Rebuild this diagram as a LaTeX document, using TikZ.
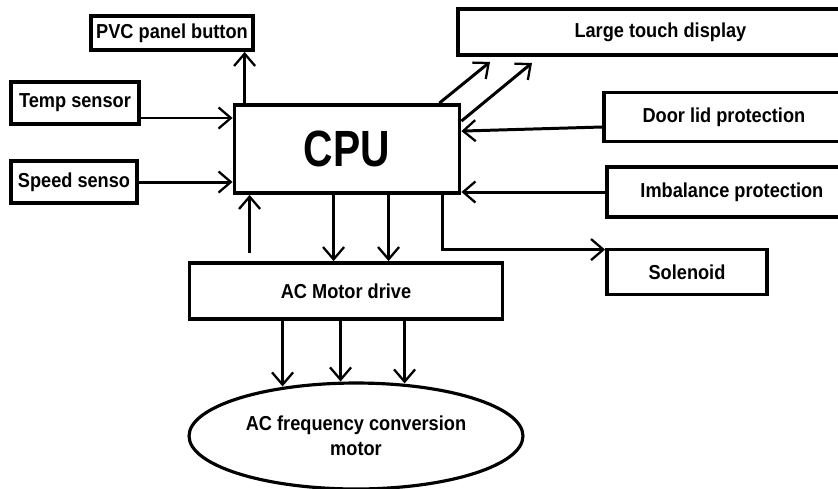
\documentclass[tikz,border=0pt]{standalone}
\usepackage{fontspec}
\setmainfont{Liberation Sans}[FakeStretch=0.9]
\newfontfamily\cpufont{Liberation Sans}[FakeStretch=0.8]
\usetikzlibrary{shapes,arrows.meta,positioning,calc}

\begin{document}
\begin{tikzpicture}[x=0.02cm, y=-0.02cm,
    every node/.style={font=\fontsize{11.5}{14}\selectfont\bfseries},
    blk/.style={draw, line width=2.2pt, inner sep=1pt},
    arr/.style={-{Straight Barb[length=7pt,width=12pt,line width=1.3pt]}, line width=1.7pt}]
            \useasboundingbox (0,0) rectangle (838,488);
            \clip (0,0) rectangle (838,488);

            \node[blk, minimum width=3.24cm, minimum height=0.68cm] (pvc) at (172,33) {PVC panel button};
            \node[blk, minimum width=8.1cm, minimum height=0.92cm, anchor=west] (touch) at (456,32) {Large touch display\hspace{1.2cm}};
            \node[blk, minimum width=2.56cm, minimum height=0.84cm] (temp) at (75,103) {Temp sensor};
            \node[blk, minimum width=2.52cm, minimum height=0.84cm] (speed) at (74,182) {Speed senso};
            \node[blk, minimum width=4.5cm, minimum height=1.76cm, font=\fontsize{29}{32}\cpufont\bfseries] (cpu) at (347,149) {CPU};
            \node[blk, minimum width=4.8cm, minimum height=0.98cm, anchor=west] (door) at (602,117) {Door lid protection};
            \node[blk, minimum width=5cm, minimum height=1cm, anchor=west] (imb) at (605,192) {Imbalance protection};
            \node[blk, minimum width=3.2cm, minimum height=0.9cm] (sol) at (687,272) {Solenoid};
            \node[blk, minimum width=6.26cm, minimum height=1.12cm] (drive) at (346,291) {AC Motor drive};
            \node[draw, ellipse, line width=1.8pt, minimum width=6.68cm, minimum height=2.12cm, align=center] (motor) at (356,436) {AC frequency conversion\\motor};

            % inputs and outputs of the cpu
            \draw[arr] ([xshift=0.24cm]cpu.north west) -- ([xshift=0.24cm]cpu.north west |- pvc.south);
            \draw[arr] ([yshift=-0.3cm]temp.east) -- ([yshift=-0.3cm]temp.east -| cpu.west);
            \draw[arr] (speed.east) -- (speed.east -| cpu.west);
            \draw[arr] ([xshift=-0.44cm]cpu.north east) -- ([xshift=0.68cm,yshift=-0.1cm]touch.south west);
            \draw[arr] ([yshift=-0.36cm]cpu.north east) -- ([xshift=1.52cm,yshift=-0.12cm]touch.south west);
            \draw[arr] ([yshift=-0.2cm]door.west) -- ([yshift=-0.56cm]cpu.north east);
            \draw[arr] (imb.west) -- (imb.west -| cpu.east);
            \draw[arr] ([xshift=-0.38cm]cpu.south east) |- ([yshift=-0.04cm]sol.north west);

            % cpu and motor drive
            \draw[arr] ([xshift=1.24cm,yshift=0.16cm]drive.north west) -- ([xshift=1.24cm]drive.north west |- cpu.south);
            \draw[arr] ([xshift=2.02cm]cpu.south west) -- ([xshift=2.02cm]cpu.south west |- drive.north);
            \draw[arr] ([xshift=3.12cm]cpu.south west) -- ([xshift=3.12cm]cpu.south west |- drive.north);

            % motor drive to motor
            \draw[arr] ([xshift=1.9cm]drive.south west) -- ([xshift=1.9cm,yshift=-0.1cm]drive.south west |- motor.north);
            \draw[arr] ([xshift=3.06cm]drive.south west) -- ([xshift=3.06cm]drive.south west |- motor.north);
            \draw[arr] ([xshift=4.34cm]drive.south west) -- ([xshift=4.34cm,yshift=-0.04cm]drive.south west |- motor.north);
        \end{tikzpicture}
\end{document}
